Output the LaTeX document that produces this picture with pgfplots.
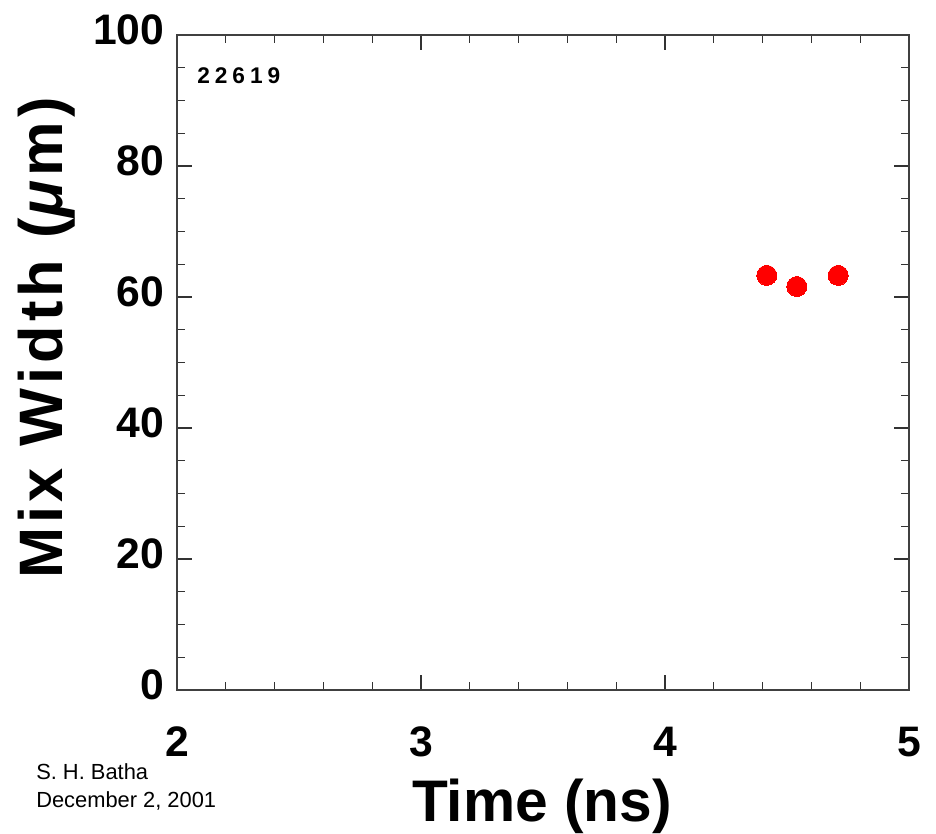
\documentclass[border=0pt]{standalone}
\usepackage{fontspec}
\setmainfont{Liberation Sans}
\usepackage{pgfplots}
\pgfplotsset{compat=1.18}
\begin{document}
\begin{tikzpicture}
\useasboundingbox (0,0) rectangle (702pt,625.5pt);
\begin{axis}[
 at={(132.75pt,108pt)}, anchor=south west,
 scale only axis, width=549pt, height=491.25pt,
 xmin=2, xmax=5, ymin=0, ymax=100,
 xtick={2,3,4,5}, ytick={0,20,40,60,80,100},
 minor x tick num=4, minor y tick num=3,
 major tick length=11pt, minor tick length=6pt,
 axis line style={black!75, line width=0.9pt},
 every tick/.style={black!80, line width=0.8pt},
 /pgf/number format/assume math mode=true,
 ticklabel style={font=\bfseries\fontsize{32}{32}\selectfont},
 xticklabel style={yshift=-24pt},
 yticklabel style={xshift=-6pt, yshift=4pt},
]
\addplot[only marks, red, mark=*, mark size=7.5pt, mark options={draw=red, fill=red, line width=0pt}] coordinates {
 (4.417,63.3) (4.540,61.6) (4.710,63.3)
};
\end{axis}
\node[rotate=90, font=\bfseries\fontsize{46}{46}\selectfont\addfontfeatures{LetterSpace=7}] at (35.25pt,372pt) {Mix Width (\textit{μ}m)};
\node[anchor=base, font=\bfseries\fontsize{44}{44}\selectfont] at (406.5pt,9pt) {Time (ns)};
\node[anchor=base west, inner sep=0pt, font=\bfseries\fontsize{17}{17}\selectfont\addfontfeatures{LetterSpace=22}] at (147.75pt,562.5pt) {22619};
\node[anchor=base west, inner sep=0pt, font=\fontsize{16.4}{16.4}\selectfont] at (27pt,40.5pt) {S. H. Batha};
\node[anchor=base west, inner sep=0pt, font=\fontsize{16.4}{16.4}\selectfont] at (27pt,19.5pt) {December 2, 2001};
\end{tikzpicture}
\end{document}
